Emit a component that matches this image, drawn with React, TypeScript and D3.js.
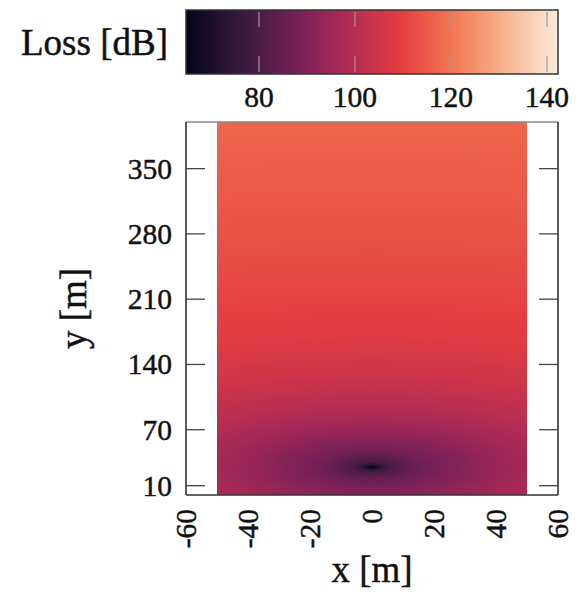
import React, { useMemo } from 'react';
import * as d3 from 'd3';

const WIDTH = 576;
const HEIGHT = 596;

// Transmitter position [m]
const sourceX = 0;
const sourceY = 30;

// Loss [dB] against distance [m] from the transmitter
const distanceM = [0, 1, 2, 3, 5, 7, 10, 15, 20, 30, 40, 50, 70, 100, 140, 200, 280, 375];
const lossDb = [65, 67, 71, 74, 78, 80.5, 83, 86, 88, 91, 94, 96.5, 100.5, 104.5, 108, 111, 114, 117];

// Map extent [m]
const gridX = [-50, 50];
const gridY = [0, 400];

// Axes
const xDomain = [-60, 60];
const yDomain = [0, 400];
const xTicks = [-60, -40, -20, 0, 20, 40, 60];
const yTicks = [10, 70, 140, 210, 280, 350];

// Colour bar
const lossDomain = [64.8, 142.3];
const cbTicks = [80, 100, 120, 140];
const rocketStops = ['#03051a', '#35193e', '#701f57', '#ae2a56', '#e33d40', '#f37651', '#f6b48f', '#faebdd'];

const FONT = '"Liberation Serif", "Times New Roman", serif';
const TICK_SIZE = 29.5;
const TITLE_SIZE = 37;
const INK = '#111';

const plot = { left: 186, right: 558, top: 122, bottom: 495 };
const bar = { left: 186, right: 558, top: 10, bottom: 74 };

export default function App() {
  const x = d3.scaleLinear().domain(xDomain).range([plot.left, plot.right]);
  const y = d3.scaleLinear().domain(yDomain).range([plot.bottom, plot.top]);
  const rocket = d3.piecewise(d3.interpolateRgb, rocketStops);
  const color = d3.scaleSequential(rocket).domain(lossDomain);
  const lossAt = d3.scaleLinear().domain(distanceM).range(lossDb).clamp(true);
  const cbx = d3.scaleLinear().domain(lossDomain).range([bar.left, bar.right]);

  const hx0 = x(gridX[0]);
  const hx1 = x(gridX[1]);
  const hy0 = y(gridY[1]);
  const hy1 = y(gridY[0]);

  const heatUrl = useMemo(() => {
    const w = Math.round(hx1 - hx0);
    const h = Math.round(hy1 - hy0);
    const canvas = document.createElement('canvas');
    canvas.width = w;
    canvas.height = h;
    const ctx = canvas.getContext('2d');
    if (!ctx) return '';
    const img = ctx.createImageData(w, h);
    for (let j = 0; j < h; j++) {
      const my = y.invert(hy0 + ((j + 0.5) * (hy1 - hy0)) / h);
      for (let i = 0; i < w; i++) {
        const mx = x.invert(hx0 + ((i + 0.5) * (hx1 - hx0)) / w);
        const r = Math.hypot(mx - sourceX, my - sourceY);
        const c = d3.rgb(color(lossAt(r)));
        const k = (j * w + i) * 4;
        img.data[k] = c.r;
        img.data[k + 1] = c.g;
        img.data[k + 2] = c.b;
        img.data[k + 3] = 255;
      }
    }
    ctx.putImageData(img, 0, 0);
    return canvas.toDataURL();
  }, []);

  const gradStops = d3.range(0, 41).map((i) => i / 40);
  const textProps = { fill: INK, stroke: INK, strokeWidth: 0.45 };

  return (
    <svg
      width={WIDTH}
      height={HEIGHT}
      style={{ position: 'absolute', left: 0, top: 0, background: '#fff' }}
      fontFamily={FONT}
    >
      <defs>
        <linearGradient id="lossGrad" x1="0" x2="1" y1="0" y2="0">
          {gradStops.map((t) => (
            <stop key={t} offset={t} stopColor={rocket(t)} />
          ))}
        </linearGradient>
      </defs>

      {/* colour bar */}
      <rect
        x={bar.left}
        y={bar.top}
        width={bar.right - bar.left}
        height={bar.bottom - bar.top}
        fill="url(#lossGrad)"
        stroke="#333"
        strokeWidth={1.5}
      />
      {cbTicks.map((t) => (
        <g key={t} stroke="#999" strokeOpacity={0.8} strokeWidth={1.5}>
          <line x1={cbx(t)} x2={cbx(t)} y1={bar.top + 2} y2={bar.top + 17} />
          <line x1={cbx(t)} x2={cbx(t)} y1={bar.bottom - 18} y2={bar.bottom - 2} />
        </g>
      ))}
      {cbTicks.map((t) => (
        <text key={t} x={cbx(t)} y={107} textAnchor="middle" fontSize={TICK_SIZE} {...textProps}>
          {t}
        </text>
      ))}
      <text x={168} y={55} textAnchor="end" fontSize={TITLE_SIZE} {...textProps}>
        Loss [dB]
      </text>

      {/* heat map */}
      <image
        href={heatUrl}
        x={hx0}
        y={hy0}
        width={hx1 - hx0}
        height={hy1 - hy0}
        preserveAspectRatio="none"
      />

      {/* frame */}
      <line x1={plot.left} x2={plot.right} y1={plot.top} y2={plot.top} stroke="#888" strokeWidth={1.3} />
      <line x1={plot.left} x2={plot.right} y1={plot.bottom} y2={plot.bottom} stroke="#333" strokeWidth={1.6} />
      <line x1={plot.left} x2={plot.left} y1={plot.top} y2={plot.bottom} stroke="#333" strokeWidth={1.6} />
      <line x1={plot.right} x2={plot.right} y1={plot.top} y2={plot.bottom} stroke="#333" strokeWidth={1.6} />

      {/* y ticks */}
      {yTicks.map((t) => (
        <g key={t}>
          <line x1={plot.left} x2={plot.left + 19} y1={y(t)} y2={y(t)} stroke="#444" strokeWidth={1.3} />
          <line x1={plot.right - 19} x2={plot.right} y1={y(t)} y2={y(t)} stroke="#444" strokeWidth={1.3} />
          <text x={172} y={y(t)} dy="0.34em" textAnchor="end" fontSize={TICK_SIZE} {...textProps}>
            {t}
          </text>
        </g>
      ))}

      {/* x tick labels */}
      {xTicks.map((t) => (
        <text
          key={t}
          transform={`translate(${x(t)},${509}) rotate(-90)`}
          dy="0.34em"
          textAnchor="end"
          fontSize={TICK_SIZE}
          {...textProps}
        >
          {t}
        </text>
      ))}

      {/* axis titles */}
      <text x={x(0)} y={582} textAnchor="middle" fontSize={TITLE_SIZE} {...textProps}>
        x [m]
      </text>
      <text
        transform={`translate(86,${(plot.top + plot.bottom) / 2}) rotate(-90)`}
        textAnchor="middle"
        fontSize={TITLE_SIZE}
        {...textProps}
      >
        y [m]
      </text>
    </svg>
  );
}
